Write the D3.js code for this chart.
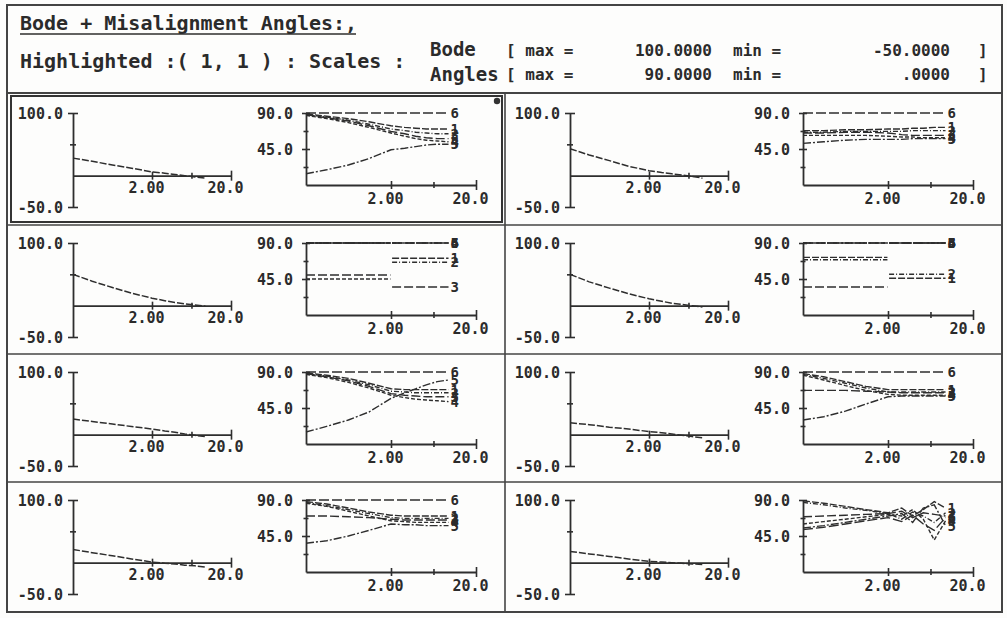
<!DOCTYPE html>
<html><head><meta charset="utf-8">
<script src="https://cdn.jsdelivr.net/npm/d3@7"></script>
<style>
html,body{margin:0;padding:0;background:#fdfdfc;}
svg{display:block;}
text{font-family:"DejaVu Sans Mono",monospace;font-weight:bold;fill:#2b2b2b;}
</style></head><body>
<svg id="c" width="1007" height="618"></svg>
<script>
// Frequency grid shared by every panel (log axis, labelled 2.00 and 20.0)
const freqs = [0.2, 0.35, 0.63, 1.1, 2.0, 2.9, 3.9, 5.2, 7.0, 9.5];
// Step panels jump at 2.00: left level, gap, right level
const stepFreqs = [0.2, 1.97, 2.0, 2.06, 9.5];
const seriesNames = ["1", "2", "3", "4", "5", "6"];
const xTickValues = [2, 6.32, 20];
const xTickLabels = ["2.00", "", "20.0"];
const bodeTicks = [100, 50, 0, -50];
const bodeTickLabels = ["100.0", "", "", "-50.0"];
const angleTicks = [90, 67.5, 45, 22.5];
const angleTickLabels = ["90.0", "", "45.0", ""];

// Bode curves, one per panel
const bode11 = [28, 23, 17, 12, 6, 4, 2, 0, -2, -4];
const bode12 = [43, 33, 24, 15, 8, 5, 3, 1, -1, -4];
const bode21 = [50, 39, 29, 20, 12, 8, 5, 3, 1, -1];
const bode22 = [50, 38, 28, 19, 11, 7, 4, 2, 0, -2];
const bode31 = [25, 21, 17, 13, 9, 6, 4, 1, -1, -3];
const bode32 = [19, 16, 12, 9, 5, 3, 1, -1, -3, -5];
const bode41 = [21, 16, 11, 6, 1, -1, -2, -4, -5, -7];
const bode42 = [18, 14, 10, 6, 2, 1, 0, -1, -2, -3];

// Misalignment angles, series 1..6 per panel
const angles11 = [
  [89, 86, 83, 79, 74, 72, 71, 70, 70, 70],
  [88, 85, 81, 76, 70, 68, 66, 65, 64, 64],
  [88, 84, 80, 74, 67, 64, 61, 59, 58, 58],
  [87, 83, 78, 72, 65, 61, 58, 56, 55, 54],
  [14, 19, 25, 33, 44, 46, 48, 50, 51, 51],
  [90, 90, 90, 90, 90, 90, 90, 90, 90, 90]];
const angles12 = [
  [68, 68, 69, 69, 70, 70, 71, 71, 72, 72],
  [66, 66, 67, 67, 67, 67, 68, 68, 68, 68],
  [65, 65, 66, 66, 65, 63, 62, 62, 62, 62],
  [62, 62, 62, 62, 61, 60, 60, 59, 59, 59],
  [52, 54, 56, 57, 57, 57, 58, 58, 58, 58],
  [90, 90, 90, 90, 90, 90, 90, 90, 90, 90]];
const angles21Left = [90, 90, 50, 45, 90, 90];
const angles21Right = [71, 66, 35, 90, 90, 90];
const angles22Left = [72, 69, 35, 90, 90, 90];
const angles22Right = [46, 51, 90, 90, 90, 90];
const angles31 = [
  [89, 86, 82, 76, 69, 68, 68, 68, 68, 68],
  [88, 85, 80, 74, 66, 65, 64, 64, 64, 64],
  [88, 84, 79, 72, 63, 61, 60, 59, 59, 59],
  [87, 83, 77, 70, 61, 58, 56, 55, 54, 53],
  [15, 22, 30, 40, 57, 64, 69, 74, 78, 80],
  [90, 90, 90, 90, 90, 90, 90, 90, 90, 90]];
const angles32 = [
  [88, 84, 78, 72, 68, 68, 68, 68, 68, 68],
  [87, 82, 76, 70, 65, 65, 65, 65, 65, 65],
  [67, 67, 67, 66, 65, 64, 64, 64, 64, 64],
  [86, 80, 73, 67, 62, 61, 61, 61, 61, 61],
  [30, 34, 41, 50, 59, 60, 60, 60, 60, 60],
  [90, 90, 90, 90, 90, 90, 90, 90, 90, 90]];
const angles41 = [
  [88, 85, 80, 75, 71, 70, 70, 70, 70, 70],
  [87, 83, 78, 73, 68, 67, 67, 67, 67, 67],
  [70, 70, 69, 68, 66, 65, 65, 65, 65, 65],
  [86, 82, 76, 70, 64, 63, 62, 62, 62, 62],
  [36, 39, 45, 52, 60, 59, 59, 58, 58, 58],
  [90, 90, 90, 90, 90, 90, 90, 90, 90, 90]];
const angles42 = [
  [89, 86, 82, 78, 74, 80, 70, 78, 88, 80],
  [87, 84, 80, 77, 73, 66, 75, 70, 62, 74],
  [69, 70, 71, 72, 73, 76, 68, 74, 72, 70],
  [60, 63, 66, 69, 72, 70, 78, 66, 40, 64],
  [55, 58, 62, 66, 70, 73, 62, 80, 84, 58],
  [53, 56, 60, 64, 68, 63, 71, 60, 52, 68]];

const stepSeries = (left, right) => left.map((l, i) => [l, l, null, right[i], right[i]]);

const panels = [
  {row: 0, col: 0, bode: bode11, angles: angles11, fx: freqs},
  {row: 0, col: 1, bode: bode12, angles: angles12, fx: freqs},
  {row: 1, col: 0, bode: bode21, angles: stepSeries(angles21Left, angles21Right), fx: stepFreqs},
  {row: 1, col: 1, bode: bode22, angles: stepSeries(angles22Left, angles22Right), fx: stepFreqs},
  {row: 2, col: 0, bode: bode31, angles: angles31, fx: freqs},
  {row: 2, col: 1, bode: bode32, angles: angles32, fx: freqs},
  {row: 3, col: 0, bode: bode41, angles: angles41, fx: freqs},
  {row: 3, col: 1, bode: bode42, angles: angles42, fx: freqs}
];

const ink = "#2e2e2e";
const dashes = ["7,2", "5,2,1,2", "9,3", "4,2", "8,2,2,2", "10,3"];
const rowTops = [95, 225, 354, 482];
const colShift = 497;

const svg = d3.select("#c");
svg.append("rect").attr("width", 1007).attr("height", 618).attr("fill", "#fdfdfc");

// Frame and panel grid
const frame = svg.append("g").attr("fill", "none").attr("stroke", "#444");
frame.append("rect").attr("x", 7).attr("y", 5).attr("width", 995).attr("height", 607).attr("stroke-width", 2);
frame.append("line").attr("x1", 7).attr("x2", 1002).attr("y1", 93).attr("y2", 93).attr("stroke-width", 2);
frame.append("line").attr("x1", 505).attr("x2", 505).attr("y1", 93).attr("y2", 612).attr("stroke-width", 1.6);
rowTops.slice(1).forEach(t => frame.append("line").attr("x1", 7).attr("x2", 1002)
  .attr("y1", t).attr("y2", t).attr("stroke-width", 1.6));
// highlighted panel (1,1)
frame.append("rect").attr("x", 11).attr("y", 96).attr("width", 491).attr("height", 126)
  .attr("stroke-width", 2).attr("stroke", "#333");
svg.append("circle").attr("cx", 497).attr("cy", 101).attr("r", 3.2).attr("fill", "#333");

// Header
const hdr = svg.append("g");
hdr.append("text").attr("x", 20).attr("y", 30).attr("font-size", 20).text("Bode + Misalignment Angles:,");
hdr.append("line").attr("x1", 20).attr("x2", 356).attr("y1", 34).attr("y2", 34).attr("stroke", ink).attr("stroke-width", 1.5);
hdr.append("text").attr("x", 20).attr("y", 68).attr("font-size", 20).text("Highlighted :( 1, 1 ) : Scales :");
hdr.append("text").attr("x", 430).attr("y", 56).attr("font-size", 19).text("Bode");
hdr.append("text").attr("x", 430).attr("y", 81).attr("font-size", 19).text("Angles");
const scaleRows = [
  {y: 56, max: "100.0000", min: "-50.0000"},
  {y: 80, max: "90.0000", min: ".0000"}
];
scaleRows.forEach(r => {
  hdr.append("text").attr("x", 506).attr("y", r.y).attr("font-size", 16).text("[ max =");
  hdr.append("text").attr("x", 712).attr("y", r.y).attr("font-size", 16).attr("text-anchor", "end").text(r.max);
  hdr.append("text").attr("x", 733).attr("y", r.y).attr("font-size", 16).text("min =");
  hdr.append("text").attr("x", 950).attr("y", r.y).attr("font-size", 16).attr("text-anchor", "end").text(r.min);
  hdr.append("text").attr("x", 978).attr("y", r.y).attr("font-size", 16).text("]");
});

function styleAxis(g, horizontal, crossLen) {
  g.select(".domain").attr("stroke", ink).attr("stroke-width", 1.8);
  g.selectAll(".tick line").attr("stroke", ink).attr("stroke-width", 1.6)
    .each(function(d, i) {
      const len = crossLen[i];
      if (horizontal) d3.select(this).attr("y1", -len).attr("y2", len);
      else d3.select(this).attr("x1", -len).attr("x2", len);
    });
  g.selectAll(".tick text").attr("fill", ink).attr("font-size", 15)
    .attr("font-family", '"DejaVu Sans Mono", monospace').attr("font-weight", "bold");
  g.attr("font-family", null).attr("font-size", null);
}

panels.forEach(p => {
  const top = rowTops[p.row];
  const dx = p.col * colShift;
  const g = svg.append("g");

  // ---- Bode plot ----
  const xb = d3.scaleLog().domain([0.2, 20]).range([73 + dx, 231 + dx]);
  const yb = d3.scaleLinear().domain([-50, 100]).range([top + 112, top + 18]);

  const byAxis = g.append("g").attr("transform", `translate(${73 + dx},0)`)
    .call(d3.axisLeft(yb).tickValues(bodeTicks).tickSizeInner(5).tickSizeOuter(0).tickPadding(5)
      .tickFormat((d, i) => bodeTickLabels[i]));
  styleAxis(byAxis, false, [5, 3, 0, 5]);
  byAxis.selectAll(".tick text").attr("dy", "0.38em");

  const bxAxis = g.append("g").attr("transform", `translate(0,${yb(0)})`)
    .call(d3.axisBottom(xb).tickValues(xTickValues).tickSizeInner(4).tickSizeOuter(0).tickPadding(3)
      .tickFormat((d, i) => xTickLabels[i]));
  styleAxis(bxAxis, true, [4, 3, 5]);
  bxAxis.selectAll(".tick text").attr("x", -6);

  const bodeLine = d3.line().x((d, i) => xb(freqs[i])).y(d => yb(d));
  g.append("path").datum(p.bode).attr("d", bodeLine)
    .attr("fill", "none").attr("stroke", ink).attr("stroke-width", 1.5).attr("stroke-dasharray", "7,2");

  // ---- Misalignment angles plot ----
  const xa = d3.scaleLog().domain([0.2, 20]).range([306 + dx, 476 + dx]);
  const ya = d3.scaleLinear().domain([0, 90]).range([top + 90, top + 18]);

  const ayAxis = g.append("g").attr("transform", `translate(${306 + dx},0)`)
    .call(d3.axisLeft(ya).tickValues(angleTicks).tickSizeInner(4).tickSizeOuter(0).tickPadding(9)
      .tickFormat((d, i) => angleTickLabels[i]));
  styleAxis(ayAxis, false, [4, 2.5, 4, 2.5]);
  ayAxis.selectAll(".tick text").attr("dy", "0.38em");

  const axAxis = g.append("g").attr("transform", `translate(0,${ya(0)})`)
    .call(d3.axisBottom(xa).tickValues(xTickValues).tickSizeInner(4).tickSizeOuter(0).tickPadding(4)
      .tickFormat((d, i) => xTickLabels[i]));
  styleAxis(axAxis, true, [4, 3, 5]);
  axAxis.selectAll(".tick text").attr("x", -6);

  const angLine = d3.line().defined(d => d != null)
    .x((d, i) => xa(p.fx[i])).y(d => ya(d));
  p.angles.forEach((s, k) => {
    g.append("path").datum(s).attr("d", angLine)
      .attr("fill", "none").attr("stroke", ink).attr("stroke-width", 1.4)
      .attr("stroke-dasharray", dashes[k]);
    const last = s.length - 1;
    g.append("text").attr("x", xa(p.fx[last]) + 2).attr("y", ya(s[last]))
      .attr("dy", "0.36em").attr("font-size", 14).attr("font-weight", "normal")
      .text(seriesNames[k]);
  });
});
</script>
</body></html>
